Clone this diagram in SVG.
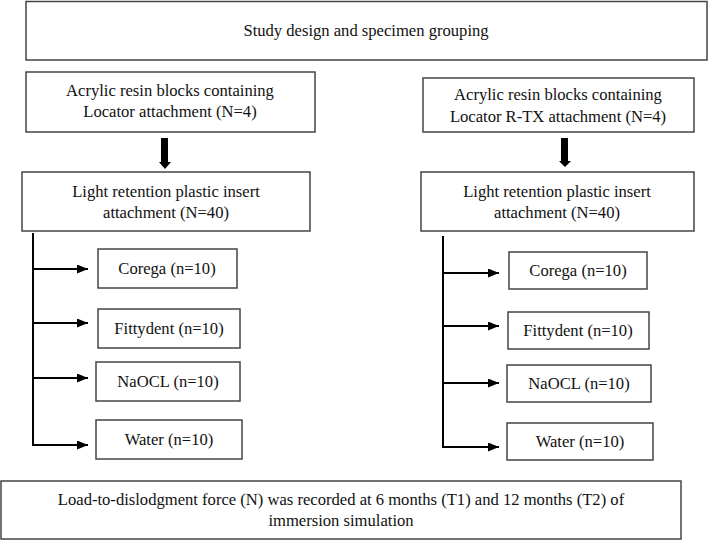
<svg xmlns="http://www.w3.org/2000/svg" width="710" height="541" viewBox="0 0 710 541">
<style>
.box{fill:#fff;stroke:#444;stroke-width:1.5}
text{font-family:"Liberation Serif","Times New Roman",serif;font-size:16.6px;fill:#111;text-anchor:middle}
.ln{stroke:#000;stroke-width:2;fill:none}
.ah{fill:#000}
</style>
<defs>
<marker id="arr" markerWidth="11" markerHeight="9" refX="11" refY="4.5" orient="auto" markerUnits="userSpaceOnUse">
<path d="M0,0 L11,4.5 L0,9 Z" fill="#000"/>
</marker>
</defs>
<rect width="710" height="541" fill="#fff"/>
<g id="top"><rect class="box" x="26" y="1.5" width="681" height="58.5"/><text x="366" y="36">Study design and specimen grouping</text></g>
<g id="l1"><rect class="box" x="26" y="72" width="289" height="60"/><text x="170" y="96">Acrylic resin blocks containing</text><text x="170" y="117">Locator attachment (N=4)</text></g>
<g id="r1"><rect class="box" x="423" y="78" width="271" height="54"/><text x="558" y="100">Acrylic resin blocks containing</text><text x="558" y="122">Locator R-TX attachment (N=4)</text></g>
<g id="l2"><rect class="box" x="22" y="172" width="288" height="59"/><text x="166" y="197">Light retention plastic insert</text><text x="166" y="218">attachment (N=40)</text></g>
<g id="r2"><rect class="box" x="421" y="172" width="273" height="59"/><text x="557" y="197">Light retention plastic insert</text><text x="557" y="218">attachment (N=40)</text></g>
<g id="lc"><rect class="box" x="98" y="249" width="139" height="39"/><text x="167" y="274">Corega (n=10)</text></g>
<g id="lf"><rect class="box" x="98" y="309" width="142" height="39"/><text x="169" y="334">Fittydent (n=10)</text></g>
<g id="ln"><rect class="box" x="96" y="362" width="144" height="39"/><text x="168" y="387">NaOCL (n=10)</text></g>
<g id="lw"><rect class="box" x="96" y="420" width="146" height="39"/><text x="169" y="445">Water (n=10)</text></g>
<g id="rc"><rect class="box" x="509" y="252" width="138" height="37"/><text x="578" y="276">Corega (n=10)</text></g>
<g id="rf"><rect class="box" x="508" y="312" width="141" height="37"/><text x="578" y="336">Fittydent (n=10)</text></g>
<g id="rn"><rect class="box" x="507" y="365" width="144" height="37"/><text x="579" y="389">NaOCL (n=10)</text></g>
<g id="rw"><rect class="box" x="507" y="423" width="146" height="37"/><text x="580" y="447">Water (n=10)</text></g>
<g id="bottom"><rect class="box" x="1" y="481" width="680" height="58"/><text x="341" y="505">Load-to-dislodgment force (N) was recorded at 6 months (T1) and 12 months (T2) of</text><text x="341" y="526">immersion simulation</text></g>
<g id="connectors">
<path class="ah" d="M161,138 H168 V162 H171 L165,169 L159,162 H161 Z"/>
<path class="ah" d="M561,138 H568 V161 H571 L565,167 L559,161 H561 Z"/>
<path class="ln" d="M33,233 V446"/>
<path class="ln" d="M33,269 H88" marker-end="url(#arr)"/>
<path class="ln" d="M33,323 H88" marker-end="url(#arr)"/>
<path class="ln" d="M33,378 H88" marker-end="url(#arr)"/>
<path class="ln" d="M33,445 H88" marker-end="url(#arr)"/>
<path class="ln" d="M443,236 V448"/>
<path class="ln" d="M443,273 H499" marker-end="url(#arr)"/>
<path class="ln" d="M443,326 H499" marker-end="url(#arr)"/>
<path class="ln" d="M443,383 H499" marker-end="url(#arr)"/>
<path class="ln" d="M443,447 H499" marker-end="url(#arr)"/>
</g>
</svg>
